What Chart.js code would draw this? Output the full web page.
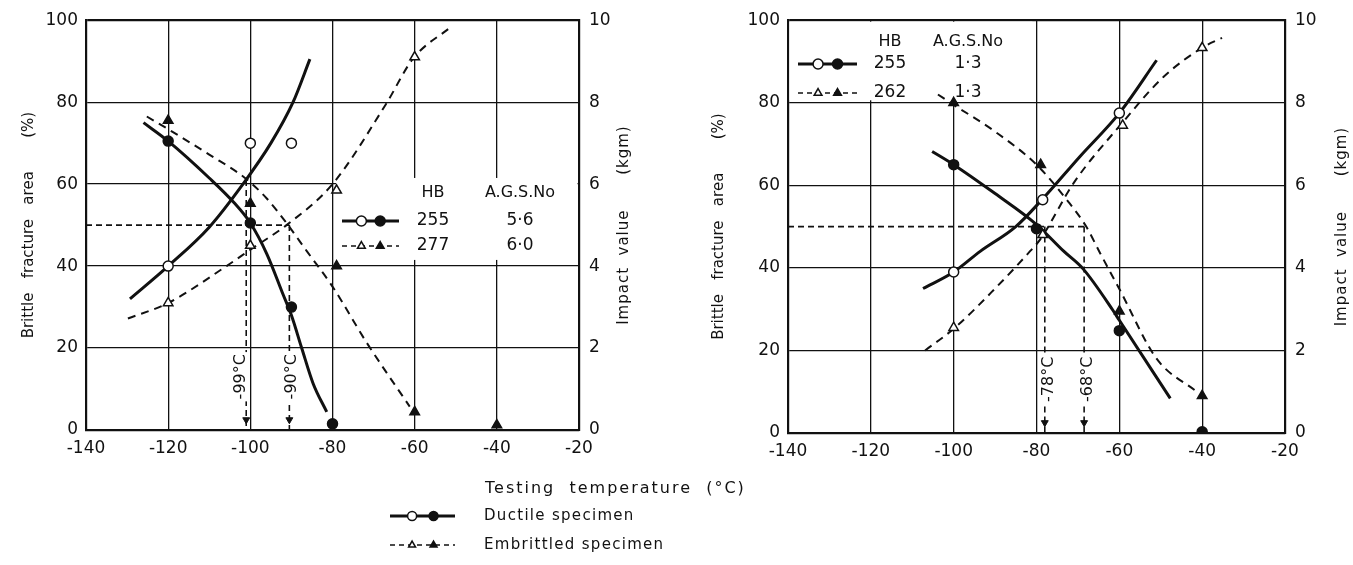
<!DOCTYPE html>
<html>
<head>
<meta charset="utf-8">
<title>Brittle fracture area and impact value vs testing temperature</title>
<script src="https://cdn.jsdelivr.net/npm/chart.js@4.4.1/dist/chart.umd.min.js"></script>
<style>
  body { margin: 0; background: #fff; }
  #wrap { position: relative; width: 1353px; height: 565px; overflow: hidden; }
  canvas { position: absolute; top: 0; }
  #left { left: 0; }
  #right { left: 680px; }
</style>
</head>
<body>
<div id="wrap">
  <canvas id="left" width="1353" height="565"></canvas>
  <canvas id="right" width="673" height="470"></canvas>
</div>
<script>
var INK = '#111'
var FONT = 'DejaVu Sans'

// axes
var tempRange = [-140, -20]
var fractureRange = [0, 100]
var impactRange = [0, 10]

// left panel, HB 255 / 277
var L_ductFracPts = [[-120, 70.5], [-100, 50.5], [-90, 30], [-80, 1.5]]
var L_ductImpPts = [[-120, 4.0], [-100, 7.0], [-90, 7.0]]
var L_embFracPts = [[-120, 75.5], [-100, 55.3], [-79, 40], [-60, 4.4], [-40, 1.2]]
var L_embImpPts = [[-120, 3.1], [-100, 4.5], [-79, 5.85], [-60, 9.1]]
var L_ductFracCurve = [[-126, 75], [-120, 70.5], [-110, 61.5], [-104, 55.5], [-100, 50.5], [-96, 43], [-92, 33], [-90, 28], [-87.5, 20], [-84.7, 11.3], [-81.4, 4.4]]
var L_ductImpCurve = [[-129.3, 3.2], [-120, 4.0], [-110, 4.95], [-101.8, 6.0], [-95, 7.0], [-89.6, 8.0], [-85.5, 9.05]]
var L_embFracCurve = [[-125.2, 76.5], [-120, 73.4], [-110, 67.2], [-101.3, 61.5], [-96, 56.5], [-91.2, 50.5], [-86.3, 43.7], [-80, 35], [-71.8, 21.5], [-61.2, 5.7]]
var L_embImpCurve = [[-129.8, 2.72], [-120, 3.1], [-105.8, 4.0], [-100, 4.4], [-91.2, 5.0], [-80, 6.0], [-67, 7.95], [-60.4, 9.06], [-51, 9.85]]
var L_fattTemps = [-101, -90.5]
var L_fattTops = [61, 50]
var L_fattLabels = ['-99°C', '-90°C']
var L_legendRows = [['255', '5·6'], ['277', '6·0']]

// right panel, HB 255 / 262
var R_ductFracPts = [[-100, 65], [-80, 49.5], [-60, 24.8], [-40, 0.3]]
var R_ductImpPts = [[-100, 3.9], [-78.5, 5.65], [-60, 7.75]]
var R_embFracPts = [[-100, 80], [-79, 65], [-60, 29.5], [-40, 9]]
var R_embImpPts = [[-100, 2.55], [-78.5, 4.8], [-59.2, 7.45], [-40, 9.33]]
var R_ductFracCurve = [[-105.2, 68.2], [-100, 65], [-90, 58], [-80, 50.5], [-73.5, 44.1], [-68.7, 39.7], [-61.6, 29.8], [-60, 27.3], [-47.7, 8.4]]
var R_ductImpCurve = [[-107.4, 3.5], [-100, 3.9], [-93.6, 4.4], [-85, 5.0], [-78.7, 5.65], [-69.5, 6.7], [-60, 7.75], [-51, 9.03]]
var R_embFracCurve = [[-103.8, 82], [-100, 79.5], [-90, 73], [-80, 65], [-72.3, 56], [-68, 50], [-64.6, 43.5], [-59.8, 34.5], [-51, 18], [-41.3, 10]]
var R_embImpCurve = [[-106.9, 2.0], [-99.7, 2.55], [-90, 3.5], [-81.5, 4.41], [-79.1, 4.69], [-71, 6.06], [-59.4, 7.5], [-49.3, 8.63], [-39.7, 9.35], [-35.2, 9.57]]
var R_fattTemps = [-78, -68.5]
var R_fattTops = [50, 50]
var R_fattLabels = ['-78°C', '-68°C']
var R_legendRows = [['255', '1·3'], ['262', '1·3']]

var fattLevel = 50
var legendHead = ['HB', 'A.G.S.No']
var specimenNames = ['Ductile specimen', 'Embrittled specimen']

Chart.defaults.font.family = FONT
Chart.defaults.color = INK

function pts(a) {
    return a.map(function (p) { return { x: p[0], y: p[1] } })
}

function curve(a, dashed, axis) {
    return {
        data: pts(a), yAxisID: axis, showLine: true,
        borderColor: INK, borderWidth: dashed ? 2 : 3,
        borderDash: dashed ? [8, 6] : [],
        pointRadius: 0, cubicInterpolationMode: 'monotone'
    }
}

function marks(a, style, filled, axis) {
    return {
        data: pts(a), yAxisID: axis, showLine: false,
        pointStyle: style, pointRadius: style == 'triangle' ? 5.5 : 5,
        pointBackgroundColor: filled ? INK : '#fff',
        pointBorderColor: INK, pointBorderWidth: 1.5
    }
}

function guides(temps, tops) {
    var dash = { yAxisID: 'y', showLine: true, borderColor: INK, borderWidth: 1.6, borderDash: [6, 4], pointRadius: 0 }
    var sets = []
    sets.push(Object.assign({ data: pts([[tempRange[0], fattLevel], [Math.max.apply(null, temps), fattLevel]]) }, dash))
    temps.forEach(function (t, i) {
        sets.push(Object.assign({ data: pts([[t, tops[i]], [t, 0]]) }, dash))
    })
    // arrow heads at the foot of the verticals
    sets.push({
        data: temps.map(function (t) { return { x: t, y: 2.5 } }), yAxisID: 'y', showLine: false,
        pointStyle: 'triangle', pointRotation: 180, pointRadius: 4,
        pointBackgroundColor: INK, pointBorderColor: INK, pointBorderWidth: 1
    })
    return sets
}

function symbol(ctx, x0, x1, y, dashed, r) {
    ctx.save()
    ctx.strokeStyle = INK
    ctx.lineWidth = dashed ? 1.6 : 3
    ctx.setLineDash(dashed ? [5, 4] : [])
    ctx.beginPath(); ctx.moveTo(x0, y); ctx.lineTo(x1, y); ctx.stroke()
    ctx.setLineDash([])
    var style = dashed ? 'triangle' : 'circle'
    var pos = [x0 + (x1 - x0) * 0.34, x0 + (x1 - x0) * 0.67]
    pos.forEach(function (px, i) {
        ctx.fillStyle = i ? INK : '#fff'
        ctx.lineWidth = 1.5
        Chart.helpers.drawPoint(ctx, { pointStyle: style, radius: r, rotation: 0, borderWidth: 1.5 }, px, y)
    })
    ctx.restore()
}

var extras = {
    id: 'extras',
    beforeDatasetsDraw: function (chart, args, o) {
        var ctx = chart.ctx, x = chart.scales.x, y = chart.scales.y
        ctx.save()
        ctx.fillStyle = '#fff'
        // legend box hides the grid under it
        var b = o.blank
        var x0 = x.getPixelForValue(b[0]) + 1.5, x1 = Math.min(x.getPixelForValue(b[1]), chart.chartArea.right - 1.5)
        var y0 = Math.max(y.getPixelForValue(b[3]), chart.chartArea.top + 1.5), y1 = y.getPixelForValue(b[2])
        ctx.fillRect(x0, y0, x1 - x0, y1 - y0)
        ctx.restore()
    },
    afterDraw: function (chart, args, o) {
        var ctx = chart.ctx, x = chart.scales.x, y = chart.scales.y
        ctx.save()
        ctx.fillStyle = INK
        ctx.textBaseline = 'middle'

        // transition temperature labels
        ctx.font = '16px ' + FONT
        o.fattLabels.forEach(function (lab, i) {
            var px = x.getPixelForValue(o.fattTemps[i]) + o.labelShift[i]
            var py = y.getPixelForValue(13)
            ctx.save()
            ctx.translate(px, py)
            ctx.rotate(-Math.PI / 2)
            var w = ctx.measureText(lab).width
            ctx.fillStyle = '#fff'
            ctx.fillRect(-w / 2 - 2, -8, w + 4, 16)
            ctx.fillStyle = INK
            ctx.textAlign = 'center'
            ctx.fillText(lab, 0, 1)
            ctx.restore()
        })

        // HB / A.G.S.No key
        var L = o.key
        ctx.textAlign = 'center'
        ctx.font = '16px ' + FONT
        ctx.fillText(legendHead[0], L.c1, L.head)
        ctx.fillText(legendHead[1], L.c2, L.head)
        o.legendRows.forEach(function (row, i) {
            var yy = L.rows[i]
            symbol(ctx, L.s0, L.s1, yy, i == 1, i == 1 ? 4.5 : 5)
            ctx.fillStyle = INK
            ctx.font = '17px ' + FONT
            ctx.fillText(row[0], L.c1, yy)
            ctx.fillText(row[1], L.c2, yy)
        })

        // impact value title, read from bottom to top
        ctx.save()
        ctx.font = '15px ' + FONT
        ctx.letterSpacing = '1px'
        ctx.translate(o.impactTitleX, (chart.chartArea.top + chart.chartArea.bottom) / 2)
        ctx.rotate(-Math.PI / 2)
        ctx.textAlign = 'center'
        ctx.fillText('Impact  value      (kgm)', 0, 0)
        ctx.restore()

        // shared x title and specimen key, only on the left canvas
        if (o.bottom) {
            var B = o.bottom
            ctx.save()
            ctx.font = '16px ' + FONT
            ctx.letterSpacing = '2px'
            ctx.textAlign = 'left'
            ctx.fillText('Testing  temperature  (°C)', B.titleX, B.titleY)
            ctx.restore()
            specimenNames.forEach(function (name, i) {
                symbol(ctx, B.s0, B.s1, B.rows[i], i == 1, i == 1 ? 4 : 4.5)
                ctx.save()
                ctx.fillStyle = INK
                ctx.font = '15px ' + FONT
                ctx.letterSpacing = '1.3px'
                ctx.textAlign = 'left'
                ctx.fillText(name, B.textX, B.rows[i])
                ctx.restore()
            })
        }
        ctx.restore()
    }
}

function panel(id, d, look) {
    var datasets = [
        marks(d.ductImpPts, 'circle', false, 'y2'),
        marks(d.ductFracPts, 'circle', true, 'y'),
        marks(d.embImpPts, 'triangle', false, 'y2'),
        marks(d.embFracPts, 'triangle', true, 'y'),
        curve(d.ductFracCurve, false, 'y'),
        curve(d.ductImpCurve, false, 'y2'),
        curve(d.embFracCurve, true, 'y'),
        curve(d.embImpCurve, true, 'y2')
    ].concat(guides(d.fattTemps, d.fattTops))

    var tickFont = { size: 17 }
    var gridW = function (c) { return c.tick && (c.tick.value == fractureRange[1]) ? 2.2 : 1.3 }

    return new Chart(document.getElementById(id), {
        type: 'scatter',
        data: { datasets: datasets },
        options: {
            responsive: false,
            animation: false,
            layout: { padding: { top: 18, bottom: look.padBottom, left: 0, right: 0 } },
            plugins: {
                legend: { display: false },
                tooltip: { enabled: false },
                extras: {
                    blank: look.blank,
                    fattTemps: d.fattTemps,
                    fattLabels: d.fattLabels,
                    labelShift: look.labelShift,
                    legendRows: d.legendRows,
                    key: look.key,
                    impactTitleX: look.impactTitleX,
                    bottom: look.bottom
                }
            },
            scales: {
                x: {
                    type: 'linear', min: tempRange[0], max: tempRange[1],
                    ticks: { stepSize: 20, padding: 8, font: tickFont, maxRotation: 0 },
                    grid: { color: INK, lineWidth: 1.3, drawTicks: false },
                    border: { color: INK, width: 2.2 },
                    afterFit: function (s) { s.height = look.xHeight }
                },
                y: {
                    position: 'left', min: fractureRange[0], max: fractureRange[1],
                    ticks: { stepSize: 20, padding: 8, font: tickFont },
                    grid: { color: INK, lineWidth: gridW, drawTicks: false },
                    border: { color: INK, width: 2.2 },
                    title: { display: true, text: 'Brittle   fracture   area       (%)', font: { size: 15 }, padding: { top: look.titlePad, bottom: 0 } },
                    afterFit: function (s) { s.width = look.leftWidth }
                },
                y2: {
                    position: 'right', min: impactRange[0], max: impactRange[1],
                    ticks: { stepSize: 2, padding: 10, font: tickFont },
                    grid: { drawOnChartArea: false, drawTicks: false },
                    border: { color: INK, width: 2.2 },
                    afterFit: function (s) { s.width = look.rightWidth }
                }
            }
        },
        plugins: [extras]
    })
}

panel('left', {
    ductFracPts: L_ductFracPts, ductImpPts: L_ductImpPts, embFracPts: L_embFracPts, embImpPts: L_embImpPts,
    ductFracCurve: L_ductFracCurve, ductImpCurve: L_ductImpCurve, embFracCurve: L_embFracCurve, embImpCurve: L_embImpCurve,
    fattTemps: L_fattTemps, fattTops: L_fattTops, fattLabels: L_fattLabels, legendRows: L_legendRows
}, {
    padBottom: 95, xHeight: 40, leftWidth: 86, rightWidth: 774, titlePad: 20,
    blank: [-79.5, -20, 41.5, 61.5],
    labelShift: [-6, 1],
    key: { head: 193, rows: [221, 246], c1: 433, c2: 520, s0: 342, s1: 399 },
    impactTitleX: 624,
    bottom: { titleX: 485, titleY: 489, s0: 390, s1: 455, textX: 484, rows: [516, 545] }
})

panel('right', {
    ductFracPts: R_ductFracPts, ductImpPts: R_ductImpPts, embFracPts: R_embFracPts, embImpPts: R_embImpPts,
    ductFracCurve: R_ductFracCurve, ductImpCurve: R_ductImpCurve, embFracCurve: R_embFracCurve, embImpCurve: R_embImpCurve,
    fattTemps: R_fattTemps, fattTops: R_fattTops, fattLabels: R_fattLabels, legendRows: R_legendRows
}, {
    padBottom: 0, xHeight: 37, leftWidth: 108, rightWidth: 68, titlePad: 30,
    blank: [-140, -81, 80.6, 100],
    labelShift: [3, 3],
    key: { head: 42, rows: [64, 93], c1: 210, c2: 288, s0: 118, s1: 177 },
    impactTitleX: 662,
    bottom: null
})
</script>
</body>
</html>
